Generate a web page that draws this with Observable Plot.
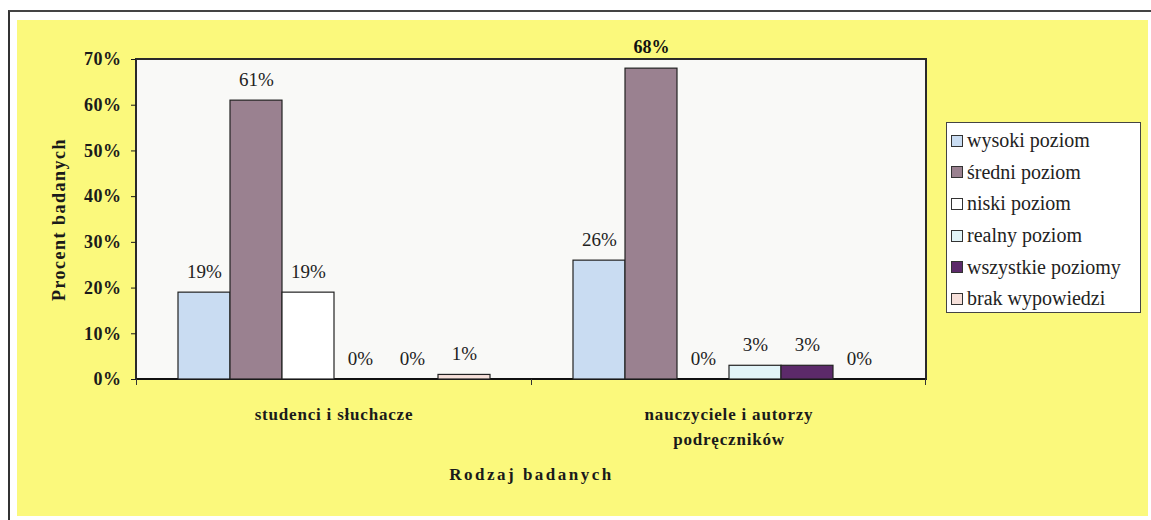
<!DOCTYPE html>
<html><head><meta charset="utf-8">
<script src="https://cdn.jsdelivr.net/npm/d3@7"></script>
<script src="https://cdn.jsdelivr.net/npm/@observablehq/plot@0.6"></script>
<style>
body{margin:0;background:#fff;width:1151px;height:520px;overflow:hidden;position:relative;font-family:"Liberation Serif","Times New Roman",serif}
#outer{position:absolute;left:8px;top:10px;width:1143px;height:510px;border-left:2px solid #333;border-top:2px solid #444;box-sizing:border-box}
#yellow{position:absolute;left:17px;top:20px;width:1131px;height:496px;background:#fbf97c}
#plotbg{position:absolute;left:135px;top:58px;width:792px;height:322px;background:#f9f9f7;border:2px solid #2a2a2a;border-bottom:2px solid #111;box-sizing:border-box}
.xt{position:absolute;top:379px;width:1px;height:6px;background:#333}
#chart{position:absolute;left:0;top:0}
#legend{position:absolute;left:946px;top:122px;width:195px;height:191px;background:#fff;border:1px solid #444;box-sizing:border-box;padding-top:2px}
#legend .row{height:31.6px;display:flex;align-items:center;font-size:20px;color:#222;white-space:nowrap}
#legend .sw{width:10px;height:10px;border:1px solid #333;margin-left:4px;margin-right:4px;flex:none}
g[aria-label="y-axis label"] text{letter-spacing:1.5px}
g[aria-label="y-axis tick label"] text{letter-spacing:0.5px}
g[aria-label="fx-axis label"] text{letter-spacing:2.5px}
g[aria-label="fx-axis tick label"] text{letter-spacing:0.8px}
</style>
</head><body>
<div id="outer"></div>
<div id="yellow"></div>
<div id="plotbg"></div>
<div class="xt" style="left:136px"></div>
<div class="xt" style="left:531px"></div>
<div class="xt" style="left:925px"></div>
<div id="chart"></div>
<div id="legend"></div>
<script>
const categories = ["studenci i słuchacze", "nauczyciele i autorzy\npodręczników"];
const series = ["wysoki poziom", "średni poziom", "niski poziom", "realny poziom", "wszystkie poziomy", "brak wypowiedzi"];
const valuesStudenci = [19, 61, 19, 0, 0, 1];
const valuesNauczyciele = [26, 68, 0, 3, 3, 0];
const seriesColors = ["#c9dcf2", "#9a8190", "#ffffff", "#e2f4f8", "#5c2a6a", "#f6e0da"];
const yTicks = [0, 10, 20, 30, 40, 50, 60, 70];
const yTitle = "Procent badanych";
const xTitle = "Rodzaj badanych";

const rows = [];
[valuesStudenci, valuesNauczyciele].forEach((vals, gi) => {
  vals.forEach((v, si) => rows.push({group: categories[gi], series: series[si], value: v}));
});
const maxVal = d3.max(rows, d => d.value);

const chart = Plot.plot({
  width: 1151,
  height: 520,
  marginLeft: 136,
  marginRight: 225,
  marginTop: 59,
  marginBottom: 141,
  style: {background: "transparent", fontFamily: "'Liberation Serif','Times New Roman',serif", color: "#1a1a1a"},
  fx: {domain: categories, padding: 0},
  x: {domain: series, paddingInner: 0, paddingOuter: 0.75, axis: null},
  y: {domain: [0, 70]},
  color: {domain: series, range: seriesColors},
  marks: [
    Plot.axisY({ticks: yTicks, tickFormat: d => d + "%", tickSize: 5, tickPadding: 10,
      fontSize: 18, fontWeight: "bold", label: yTitle, labelAnchor: "center", labelOffset: 84, labelArrow: "none"}),
    Plot.axisFx({anchor: "bottom", tickSize: 0, tickPadding: 22, fontSize: 17, fontWeight: "bold",
      lineHeight: 1.5, label: xTitle, labelAnchor: "center", labelOffset: 100, labelArrow: "none"}),
    Plot.barY(rows, {fx: "group", x: "series", y: "value", fill: "series", stroke: "#222", strokeWidth: 1.2}),
    Plot.text(rows.filter(d => d.value < maxVal), {fx: "group", x: "series", y: "value", text: d => d.value + "%",
      dy: -21, fontSize: 19, fill: "#222"}),
    Plot.text(rows.filter(d => d.value === maxVal), {fx: "group", x: "series", y: "value", text: d => d.value + "%",
      dy: -21, fontSize: 18, fontWeight: "bold", fill: "#111"})
  ]
});
document.getElementById("chart").append(chart);

const legend = d3.select("#legend");
series.forEach((s, i) => {
  const row = legend.append("div").attr("class", "row");
  row.append("div").attr("class", "sw").style("background", seriesColors[i]);
  row.append("span").text(s);
});
</script>
</body></html>
